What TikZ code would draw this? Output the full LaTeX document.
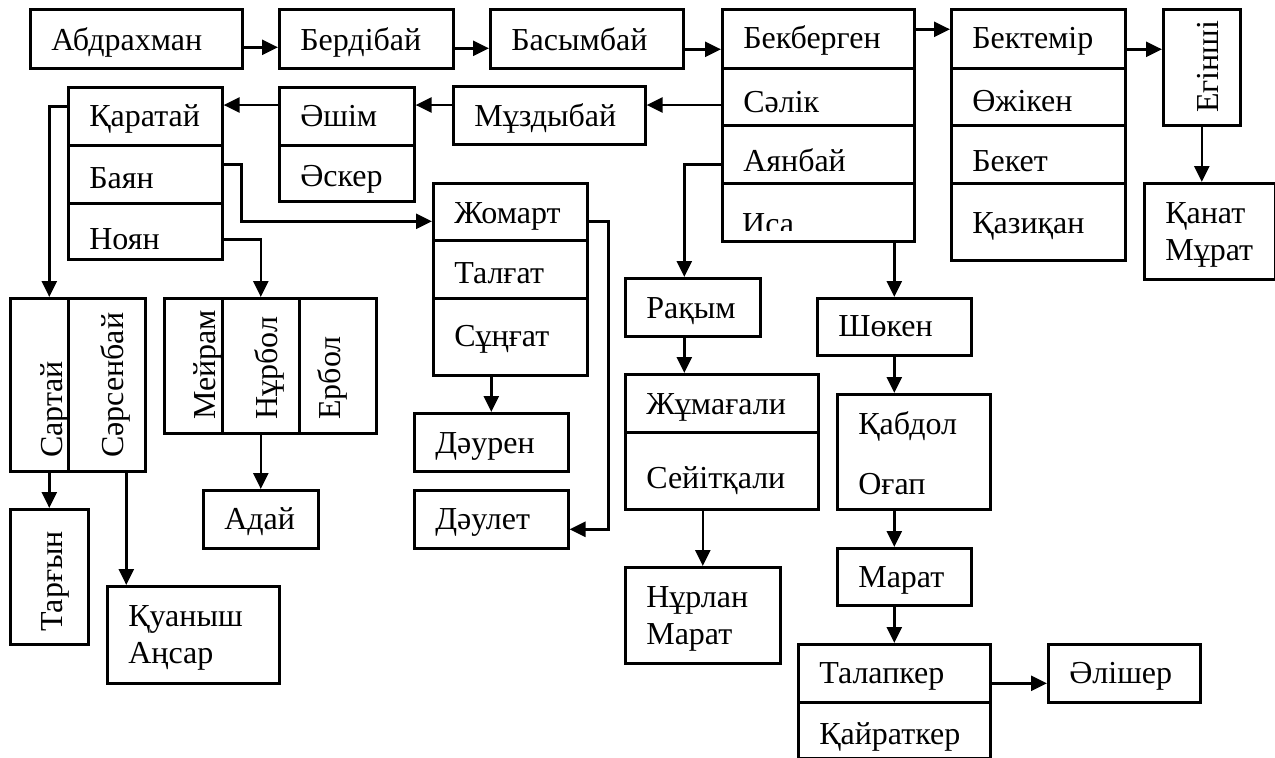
\documentclass[tikz,border=0pt]{standalone}
\usepackage{fontspec}
\setmainfont{Liberation Serif}
\usepackage{tikz}
\usetikzlibrary{positioning, arrows.meta, calc}
\hyphenpenalty=10000
\exhyphenpenalty=10000
\tikzset{
  cell/.style={draw, line width=2.6pt, anchor=north west, inner xsep=21pt, inner ysep=0pt, align=left},
  vcell/.style={draw, line width=2.6pt, anchor=north west, inner sep=0pt},
  vname/.style={anchor=base west, rotate=90, inner sep=0pt},
  arr/.style={-{Triangle[length=16pt, width=15pt]}, line width=2.6pt},
}
\begin{document}
\begin{tikzpicture}[x=1pt, y=-1pt, font=\fontsize{32}{37}\selectfont]
        \useasboundingbox (0,0) rectangle (1275,758);
        % top line
        \node[cell, text width=170pt, text height=41pt, text depth=18pt] (abd) at (29,8) {Абдрахман};
        \node[cell, text width=132pt, text height=41pt, text depth=18pt] (ber) at (278,8) {Бердібай};
        \node[cell, text width=151pt, text height=41pt, text depth=18pt] (bas) at (489,8) {Басымбай};
        \node[cell, text width=150pt, text height=39pt, text depth=20pt] (bek) at (721,8) {Бекберген};
        \node[cell, text width=150pt, text height=44pt, text depth=13pt] (sal) at (721,67) {Сәлік};
        \node[cell, text width=150pt, text height=46pt, text depth=12pt] (ayn) at (721,124) {Аянбай};
        \node[vcell, minimum width=192pt, minimum height=58pt] (isa) at (721,182) {};
        \begin{scope}
          \clip (721,182) rectangle (913,230);
          \node[anchor=base west, inner sep=0pt] (isat) at (742,234.5) {Иса};
        \end{scope}
        \node[cell, text width=132pt, text height=39pt, text depth=20pt] (bkt) at (950,8) {Бектемір};
        \node[cell, text width=132pt, text height=43pt, text depth=14pt] (ozh) at (950,67) {Өжікен};
        \node[cell, text width=132pt, text height=46pt, text depth=12pt] (bkk) at (950,124) {Бекет};
        \node[cell, text width=132pt, text height=50pt, text depth=27pt] (kaz) at (950,182) {Қазиқан};
        \node[vcell, minimum width=77pt, minimum height=116pt] (eg) at (1162,8) {};
        \node[vname] (egt) at (1218,113) {Егінші};
        \node[cell, text width=89pt, text height=40pt, text depth=56pt] (kan) at (1143,182) {Қанат\\Мұрат};
        \draw[arr] ([yshift=-8.5pt]abd.east) -- ([yshift=-8.5pt]ber.west);
        \draw[arr] ([yshift=-9.5pt]ber.east) -- ([yshift=-9.5pt]bas.west);
        \draw[arr] ([yshift=-10.5pt]bas.east) -- ([yshift=-10.5pt]bek.west);
        \draw[arr] ([yshift=9.5pt]bek.east) -- ([yshift=9.5pt]bkt.west);
        \draw[arr] ([yshift=-10.5pt]bkt.east) -- ([yshift=-10.5pt]bkt.east -| eg.west);
        \draw[arr] (eg.south) -- (eg.south |- kan.north);
        % second line
        \coordinate (lvl) at (0,105);
        \node[cell, text width=150pt, text height=40pt, text depth=18pt] (muz) at (452,85) {Мұздыбай};
        \node[cell, text width=93pt, text height=39pt, text depth=19pt] (ash) at (278,86) {Әшім};
        \node[cell, text width=93pt, text height=41pt, text depth=15pt] (ask) at (278,144) {Әскер};
        \node[cell, text width=112pt, text height=39pt, text depth=19pt] (kar) at (67,86) {Қаратай};
        \node[cell, text width=112pt, text height=43pt, text depth=15pt] (bay) at (67,144) {Баян};
        \node[cell, text width=112pt, text height=46pt, text depth=10pt] (noy) at (67,202) {Ноян};
        \draw[arr] (sal.west |- lvl) -- (muz.east |- lvl);
        \draw[arr] (muz.west |- lvl) -- (ash.east |- lvl);
        \draw[arr] (ash.west |- lvl) -- (kar.east |- lvl);
        % Karatai branch
        \node[vcell, minimum width=58pt, minimum height=173pt] (sar) at (9,297) {};
        \node[vcell, minimum width=77pt, minimum height=173pt] (srs) at (67,297) {};
        \node[vname] (sart) at (62,458) {Сартай};
        \node[vname] (srst) at (123,458) {Сәрсенбай};
        \node[vcell, minimum width=78pt, minimum height=135pt] (tar) at (9,508) {};
        \node[vname] (tart) at (62,632) {Тарғын};
        \node[cell, text width=130pt, text height=40pt, text depth=57pt] (kua) at (106,585) {Қуаныш\\Аңсар};
        \node[vcell, minimum width=58pt, minimum height=135pt] (mey) at (163,297) {};
        \node[vcell, minimum width=77pt, minimum height=135pt] (nrb) at (221,297) {};
        \node[vcell, minimum width=77pt, minimum height=135pt] (erb) at (298,297) {};
        \node[vname] (meyt) at (215,420) {Мейрам};
        \node[vname] (nrbt) at (277,420) {Нұрбол};
        \node[vname] (erbt) at (340,420) {Ербол};
        \node[cell, text width=73pt, text height=39pt, text depth=19pt] (ada) at (202,489) {Адай};
        \node[cell, text width=112pt, text height=40pt, text depth=17pt] (zho) at (432,182) {Жомарт};
        \node[cell, text width=112pt, text height=43pt, text depth=15pt] (tlg) at (432,239) {Талғат};
        \node[cell, text width=112pt, text height=48pt, text depth=29pt] (sun) at (432,297) {Сұңғат};
        \node[cell, text width=112pt, text height=40pt, text depth=18pt] (dur) at (413,412) {Дәурен};
        \node[cell, text width=112pt, text height=39pt, text depth=19pt] (dal) at (413,489) {Дәулет};
        \draw[arr] ([yshift=10pt]kar.west) -| ([xshift=10pt]sar.north);
        \draw[arr] ([xshift=10pt]sar.south) -- (tar.north);
        \draw[arr] ([xshift=19.5pt]srs.south) -- ([xshift=19.5pt]srs.south |- kua.north);
        \draw[arr] ([yshift=10pt]bay.east) -- ++(18,0) |- ([yshift=-9.5pt]zho.west);
        \draw[arr] ([yshift=-8pt]noy.east) -| (nrb.north);
        \draw[arr] (nrb.south) -- (ada.north);
        \draw[arr] ([yshift=-9.5pt]zho.east) -- ++(20,0) |- ([yshift=-10pt]dal.east);
        \draw[arr] (sun.south -| dur.north) -- (dur.north);
        % Bekbergen branch
        \node[cell, text width=93pt, text height=40pt, text depth=18pt] (rak) at (624,277) {Рақым};
        \node[cell, text width=151pt, text height=40pt, text depth=18pt] (zhu) at (624,373) {Жұмағали};
        \node[cell, text width=151pt, text height=56pt, text depth=21pt] (sei) at (624,431) {Сейітқали};
        \node[cell, text width=113pt, text height=40pt, text depth=56pt] (nrl) at (624,566) {Нұрлан\\Марат};
        \node[cell, text width=112pt, text height=38pt, text depth=19pt] (sho) at (816,297) {Шөкен};
        \node[cell, text width=111pt, text height=40pt, text depth=75pt] (qab) at (836,393) {Қабдол\\[23pt]Оғап};
        \node[cell, text width=92pt, text height=39pt, text depth=18pt] (mar) at (836,547) {Марат};
        \node[cell, text width=150pt, text height=39pt, text depth=19pt] (tlp) at (797,643) {Талапкер};
        \node[cell, text width=150pt, text height=42pt, text depth=14pt] (kay) at (797,701) {Қайраткер};
        \node[cell, text width=110pt, text height=39pt, text depth=19pt] (ali) at (1047,643) {Әлішер};
        \draw[arr] ([yshift=-10pt]ayn.west) -| ([xshift=-8.5pt]rak.north);
        \draw[arr] ([xshift=-8.5pt]rak.south) -- ([xshift=-8.5pt]rak.south |- zhu.north);
        \draw[arr] (sei.south -| nrl.north) -- (nrl.north);
        \draw[arr] (isa.south -| sho.north) -- (sho.north);
        \draw[arr] (sho.south) -- (sho.south |- qab.north);
        \draw[arr] (qab.south -| sho.south) -- (mar.north -| sho.south);
        \draw[arr] (mar.south -| tlp.north) -- (tlp.north);
        \draw[arr] ([yshift=-10pt]tlp.east) -- ([yshift=-10pt]ali.west);
\end{tikzpicture}
\end{document}
